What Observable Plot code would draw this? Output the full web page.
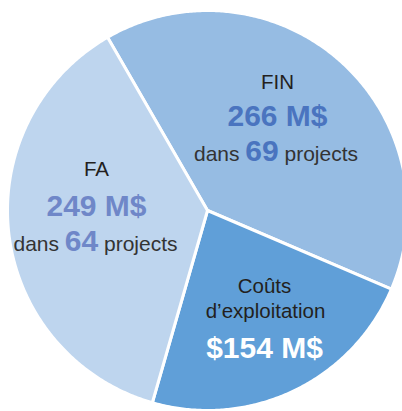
<!DOCTYPE html>
<html><head><meta charset="utf-8">
<script src="https://cdn.jsdelivr.net/npm/d3@7"></script>
<script src="https://cdn.jsdelivr.net/npm/@observablehq/plot@0.6"></script>
<style>html,body{margin:0;background:#fff;overflow:hidden} svg{display:block}</style>
</head><body><div id="chart"></div>
<script>
// ---- data ----
const keys = ["FIN", "COUTS", "FA"];
const amounts = [266, 154, 249];
const projectCounts = [69, null, 64];
const titleLines = [["FIN"], ["Coûts", "d’exploitation"], ["FA"]];
const amountLabels = ["266 M$", "$154 M$", "249 M$"];
const sliceColors = ["#96bce3", "#609fd8", "#bed5ee"];
const amountColors = ["#4a74bf", "#ffffff", "#6f87c8"];

// ---- layout ----
const W = 402, H = 411, CX = 207, CY = 210, R = 200;
const X = px => (px - CX) / R, Y = py => (CY - py) / R;

const arcs = d3.pie().sort(null)
  .startAngle(-30 * Math.PI / 180).endAngle(330 * Math.PI / 180)(amounts);

const pts = [];
arcs.forEach((a, i) => {
  pts.push({key: keys[i], x: 0, y: 0});
  const n = Math.ceil((a.endAngle - a.startAngle) / (Math.PI / 360));
  for (let k = 0; k <= n; k++) {
    const t = a.startAngle + (a.endAngle - a.startAngle) * k / n;
    pts.push({key: keys[i], x: Math.sin(t), y: Math.cos(t)});
  }
  pts.push({key: keys[i], x: 0, y: 0});
});

// label anchors (pixels)
const titlePos = [[[277, 88]], [[264, 292], [265, 317]], [[96, 175]]];
const amountPos = [[277, 125], [264, 357], [96, 215]];
const countPos = [[261.5, 160], null, [81, 250]];

const titles = [];
titleLines.forEach((lines, i) => lines.forEach((t, j) =>
  titles.push({t, x: X(titlePos[i][j][0]), y: Y(titlePos[i][j][1])})));
const amountRows = amountLabels.map((t, i) =>
  ({t, c: amountColors[i], x: X(amountPos[i][0]), y: Y(amountPos[i][1])}));
const countRows = [];
projectCounts.forEach((n, i) => {
  if (n == null) return;
  countRows.push({n: String(n), c: amountColors[i], px: countPos[i][0], py: countPos[i][1]});
});

const font = "'Liberation Sans', Arial, Helvetica, sans-serif";

const chart = Plot.plot({
  width: W, height: H,
  margin: 0,
  x: {domain: [X(0), X(W)], axis: null},
  y: {domain: [Y(H), Y(0)], axis: null},
  color: {domain: keys, range: sliceColors},
  style: {fontFamily: font, background: "#fff"},
  marks: [
    Plot.line(pts, {x: "x", y: "y", z: "key", fill: "key", stroke: "#fff", strokeWidth: 3, strokeLinejoin: "round", curve: "linear"}),
    Plot.text(titles, {x: "x", y: "y", text: "t", fontSize: 20.5, fill: "#231f20", lineAnchor: "bottom"}),
    Plot.text(amountRows, {x: "x", y: "y", text: "t", fontSize: 30, fontWeight: "bold", fill: "c", lineAnchor: "bottom"}),
    Plot.text(countRows, {x: d => X(d.px - 22.5), y: d => Y(d.py), text: () => "dans", fontSize: 21, fill: "#333", textAnchor: "end", lineAnchor: "bottom"}),
    Plot.text(countRows, {x: d => X(d.px), y: d => Y(d.py), text: "n", fontSize: 30, fontWeight: "bold", fill: "c", lineAnchor: "bottom"}),
    Plot.text(countRows, {x: d => X(d.px + 22.5), y: d => Y(d.py), text: () => "projects", fontSize: 21, fill: "#333", textAnchor: "start", lineAnchor: "bottom"})
  ]
});
document.getElementById("chart").append(chart);
</script>
</body></html>
